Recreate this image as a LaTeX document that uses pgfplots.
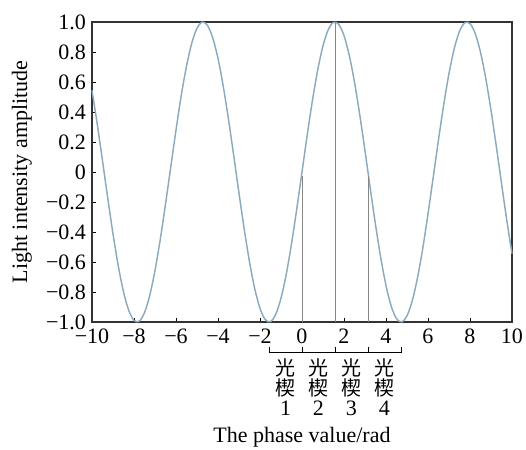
\documentclass[border=0pt]{standalone}
\usepackage{pgfplots}
\pgfplotsset{compat=1.18}
\usepackage{fontspec}
\setmainfont{Liberation Serif}
\newfontfamily\cjk{Noto Sans CJK SC}
\definecolor{wave}{RGB}{140,170,190}
\definecolor{vline}{RGB}{135,135,135}

\begin{document}
\begin{tikzpicture}
\begin{axis}[
    name=ax,
    width=315pt, height=225pt,
    scale only axis,
    xmin=-10, xmax=10, ymin=-1, ymax=1,
    xtick={-10,-8,...,10},
    xticklabels={−10,−8,−6,−4,−2,0,2,4,6,8,10},
    ytick={-1,-0.8,...,1.01},
    yticklabels={−1.0,−0.8,−0.6,−0.4,−0.2,0,0.2,0.4,0.6,0.8,1.0},
    xtick pos=bottom, ytick pos=left,
    tick align=inside,
    major tick length=3pt,
    tick style={black, line width=0.6pt},
    axis line style={black!80, line width=0.8pt},
    ticklabel style={font=\fontsize{16.5}{18}\selectfont},
    xticklabel style={yshift=-1.5pt},
    yticklabel style={xshift=-1pt},
    label style={font=\fontsize{16.5}{18}\selectfont},
    xlabel={The phase value/rad},
    xlabel style={at={(axis description cs:0.5,-0.383)}, anchor=center},
    ylabel={Light intensity amplitude},
    ylabel style={at={(axis description cs:-0.167,0.5)}, anchor=center},
    clip=false,
]
\addplot[wave, line width=1.1pt, smooth] coordinates {
(-10,0.5440) (-9.75,0.3195) (-9.5,0.0752) (-9.25,-0.1743) (-9,-0.4121)
(-8.75,-0.6247) (-8.5,-0.7985) (-8.25,-0.9228) (-8,-0.9894) (-7.75,-0.9946)
(-7.5,-0.9380) (-7.25,-0.8231) (-7,-0.6570) (-6.75,-0.4500) (-6.5,-0.2151)
(-6.25,0.0332) (-6,0.2794) (-5.75,0.5100) (-5.5,0.7055) (-5.25,0.8589)
(-5,0.9589) (-4.75,0.9993) (-4.5,0.9775) (-4.25,0.8950) (-4,0.7568)
(-3.75,0.5716) (-3.5,0.3508) (-3.25,0.1082) (-3,-0.1411) (-2.75,-0.3817)
(-2.5,-0.5985) (-2.25,-0.7781) (-2,-0.9093) (-1.75,-0.9840) (-1.5,-0.9975)
(-1.25,-0.9490) (-1,-0.8415) (-0.75,-0.6816) (-0.5,-0.4794) (-0.25,-0.2474)
(0,0) (0.25,0.2474) (0.5,0.4794) (0.75,0.6816) (1,0.8415)
(1.25,0.9490) (1.5,0.9975) (1.75,0.9840) (2,0.9093) (2.25,0.7781)
(2.5,0.5985) (2.75,0.3817) (3,0.1411) (3.25,-0.1082) (3.5,-0.3508)
(3.75,-0.5716) (4,-0.7568) (4.25,-0.8950) (4.5,-0.9775) (4.75,-0.9993)
(5,-0.9589) (5.25,-0.8589) (5.5,-0.7055) (5.75,-0.5100) (6,-0.2794)
(6.25,-0.0332) (6.5,0.2151) (6.75,0.4500) (7,0.6570) (7.25,0.8231)
(7.5,0.9380) (7.75,0.9946) (8,0.9894) (8.25,0.9228) (8.5,0.7985)
(8.75,0.6247) (9,0.4121) (9.25,0.1743) (9.5,-0.0752) (9.75,-0.3195)
(10,-0.5440)
};
% wedge boundaries
\addplot[vline, line width=0.6pt] coordinates {(0,-1) (0,-0.03)};
\addplot[vline, line width=0.6pt] coordinates {(1.5708,-1) (1.5708,1)};
\addplot[vline, line width=0.6pt] coordinates {(3.1416,-1) (3.1416,-0.03)};
% brackets under the axis
\draw[black, line width=0.6pt] (axis cs:-1.5708,-1.165) -- (axis cs:-1.5708,-1.20) -- (axis cs:0,-1.20) -- (axis cs:0,-1.165);
\draw[black, line width=0.6pt] (axis cs:0,-1.165) -- (axis cs:0,-1.20) -- (axis cs:1.5708,-1.20) -- (axis cs:1.5708,-1.165);
\draw[black, line width=0.6pt] (axis cs:1.5708,-1.165) -- (axis cs:1.5708,-1.20) -- (axis cs:3.1416,-1.20) -- (axis cs:3.1416,-1.165);
\draw[black, line width=0.6pt] (axis cs:3.1416,-1.165) -- (axis cs:3.1416,-1.20) -- (axis cs:4.7124,-1.20) -- (axis cs:4.7124,-1.165);
% wedge labels
\node[font=\fontsize{15}{16}\selectfont\cjk] at (axis cs:-0.785,-1.307) {光};
\node[font=\fontsize{15}{16}\selectfont\cjk] at (axis cs:-0.785,-1.44) {楔};
\node[font=\fontsize{16.5}{18}\selectfont] at (axis cs:-0.785,-1.573) {1};
\node[font=\fontsize{15}{16}\selectfont\cjk] at (axis cs:0.785,-1.307) {光};
\node[font=\fontsize{15}{16}\selectfont\cjk] at (axis cs:0.785,-1.44) {楔};
\node[font=\fontsize{16.5}{18}\selectfont] at (axis cs:0.785,-1.573) {2};
\node[font=\fontsize{15}{16}\selectfont\cjk] at (axis cs:2.356,-1.307) {光};
\node[font=\fontsize{15}{16}\selectfont\cjk] at (axis cs:2.356,-1.44) {楔};
\node[font=\fontsize{16.5}{18}\selectfont] at (axis cs:2.356,-1.573) {3};
\node[font=\fontsize{15}{16}\selectfont\cjk] at (axis cs:3.927,-1.307) {光};
\node[font=\fontsize{15}{16}\selectfont\cjk] at (axis cs:3.927,-1.44) {楔};
\node[font=\fontsize{16.5}{18}\selectfont] at (axis cs:3.927,-1.573) {4};
\end{axis}
\pgfresetboundingbox
\path[use as bounding box] ([shift={(-69pt,-96pt)}]ax.south west) rectangle ([shift={(325.5pt,241.5pt)}]ax.south west);
\end{tikzpicture}
\end{document}
